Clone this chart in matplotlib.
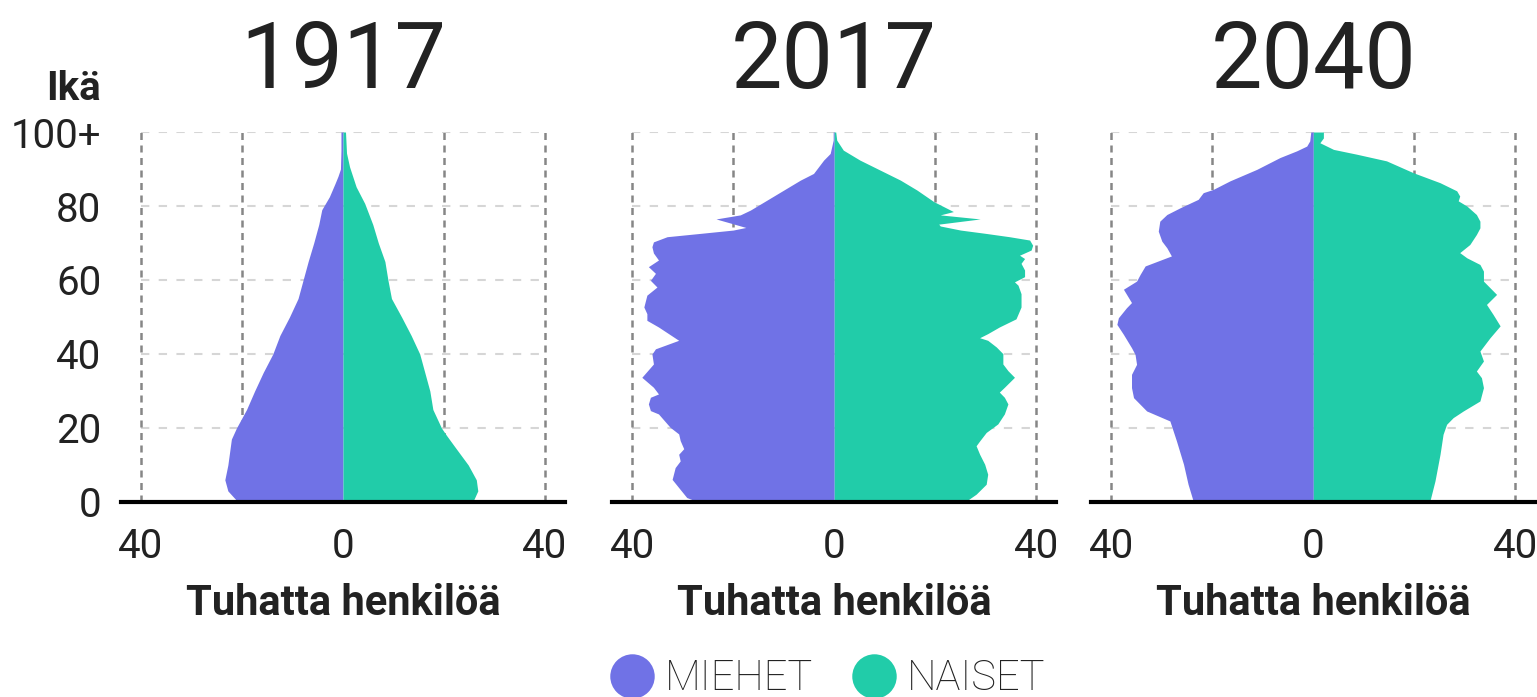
import matplotlib
matplotlib.use("Agg")
import matplotlib.pyplot as plt
from matplotlib.lines import Line2D

plt.rcParams['font.family'] = ['Roboto', 'DejaVu Sans']

# data, thousands of persons by age (men drawn to the left)
years = ['1917', '2017', '2040']

ages_m_1917 = [0, 3, 6, 10, 17, 20, 25, 30, 35, 40, 45, 50, 55, 60, 65, 70, 75, 79, 82.5, 86, 88,
               90, 95, 100]
men_1917 = [20.8, 22.8, 23.4, 22.8, 22.1, 21.1, 19.1, 17.5, 15.8, 13.9, 12.5, 10.6, 8.9, 7.9, 6.9,
            5.8, 4.8, 4.2, 2.7, 1.6, 1.0, 0.5, 0.4, 0.4]
ages_f_1917 = [0, 3, 6, 10, 15, 18, 20, 25, 30, 35, 40, 45, 50, 55, 60, 65, 70, 75, 80.7, 85.2,
               90.6, 94.3, 100]
women_1917 = [25.7, 26.7, 26.4, 24.8, 22.1, 20.5, 19.5, 17.8, 17.2, 16.2, 15.2, 13.5, 11.6, 9.6, 8.9,
              8.3, 7.0, 5.9, 4.3, 2.6, 1.3, 0.7, 0.5]

ages_m_2017 = [0, 0.3, 1.2, 3.9, 6.1, 9.3, 11.1, 12.9, 14.4, 16.6, 18.4, 20.2, 23.8, 24.7, 26.5, 28.3,
               29.2, 31.0, 33.7, 37.3, 40.0, 41.4, 43.7, 47.3, 49.1, 50.9, 52.7, 55.9, 58.1, 59.9,
               61.8, 63.6, 65.4, 67.3, 69.0, 70.3, 71.7, 72.6, 73.5, 74.2, 75.3, 76.5, 77.6, 78.9,
               81.6, 84.3, 87.0, 88.8, 92.4, 94.2, 97.8, 100]
men_2017 = [27.5, 27.5, 29.2, 30.8, 32.1, 31.5, 30.5, 30.8, 29.8, 30.5, 30.8, 32.5, 34.8, 36.4, 36.8,
            36.4, 34.8, 35.8, 38.1, 35.8, 36.1, 35.4, 30.8, 34.8, 37.1, 37.1, 37.7, 37.1, 35.1, 36.4,
            35.4, 36.8, 34.8, 35.8, 36.1, 35.8, 33.1, 26.5, 20.0, 17.5, 20.3, 23.4, 18.6, 16.6,
            13.3, 10.0, 6.7, 4.1, 2.1, 0.8, 0.2, 0.2]
ages_f_2017 = [0, 0.3, 2.1, 4.8, 7.5, 10.2, 12.9, 15.2, 16.5, 18.8, 21.1, 23.8, 26.5, 28.3, 29.7, 31.0,
               33.7, 35.5, 37.3, 40.1, 41.9, 43.7, 44.4, 45.5, 47.3, 49.5, 52.7, 56.3, 58.6, 59.5,
               60.9, 62.7, 64.5, 65.8, 66.7, 68.1, 69.4, 70.8, 71.7, 72.6, 73.5, 74.6, 75.1, 76.5,
               77.6, 78.5, 81.2, 84.3, 87.0, 89.7, 92.4, 95.1, 97.8, 100]
women_2017 = [26.2, 26.2, 28.1, 30.1, 30.4, 29.8, 28.8, 28.1, 28.8, 30.1, 32.4, 33.7, 34.4, 33.7, 32.7,
              33.7, 35.7, 34.4, 33.4, 33.4, 32.1, 30.4, 28.8, 30.4, 32.7, 36.0, 37.0, 37.0, 36.4,
              35.7, 37.7, 37.7, 37.0, 37.7, 36.7, 39.0, 39.3, 38.7, 34.7, 30.0, 25.0, 21.0, 20.7,
              28.9, 21.0, 23.6, 19.7, 16.4, 13.1, 9.1, 5.1, 1.8, 0.5, 0.3]

ages_m_2040 = [0, 0.3, 4.8, 10.2, 16.5, 21.9, 24.6, 28.2, 30.9, 34.5, 37.2, 39.9, 41.7, 45.3, 48.0,
               49.8, 52.5, 53.9, 57.5, 59.7, 61.5, 63.8, 66.5, 68.7, 70.5, 73.2, 75.9, 77.7, 79.5,
               81.8, 83.6, 84.5, 86.8, 89.9, 93.1, 94.9, 96.2, 97.6, 100]
men_2040 = [23.8, 23.8, 24.8, 25.7, 27.1, 28.4, 33.0, 35.6, 36.0, 36.0, 35.0, 35.3, 36.0, 37.6, 38.9,
            38.6, 37.0, 36.0, 37.6, 35.0, 34.3, 33.3, 28.1, 29.0, 30.0, 30.7, 30.4, 29.0, 26.4,
            22.8, 21.8, 19.8, 16.5, 11.2, 6.6, 3.3, 1.3, 0.7, 0.5]
ages_f_2040 = [0, 0.3, 5.7, 12.9, 18.3, 21.0, 22.8, 24.6, 27.3, 30.9, 33.6, 35.4, 38.1, 40.8, 44.4,
               47.6, 50.7, 53.4, 56.1, 59.7, 62.4, 64.2, 66.0, 67.4, 69.6, 72.3, 74.1, 75.9, 77.7,
               80.0, 81.4, 82.7, 84.1, 86.3, 89.0, 92.2, 94.0, 95.3, 97.1, 98.4, 100]
women_2040 = [23.1, 23.1, 24.1, 25.1, 25.7, 26.4, 27.7, 29.7, 33.0, 33.7, 33.3, 32.3, 33.7, 33.0,
              35.0, 37.0, 35.6, 34.3, 36.3, 33.7, 33.7, 33.0, 30.4, 29.0, 31.0, 32.3, 33.0, 33.0,
              32.3, 30.4, 28.7, 29.0, 28.4, 25.1, 19.8, 14.5, 8.6, 4.0, 1.3, 2.0, 2.0]

men = [(ages_m_1917, men_1917), (ages_m_2017, men_2017), (ages_m_2040, men_2040)]
women = [(ages_f_1917, women_1917), (ages_f_2017, women_2017), (ages_f_2040, women_2040)]

age_ticks = [0, 20, 40, 60, 80, 100]
age_labels = ['0', '20', '40', '60', '80', '100+']
x_ticks = [-40, 0, 40]
x_labels = ['40', '0', '40']

purple = '#7072e6'
teal = '#21cca9'
dark = '#222222'

fig = plt.figure(figsize=(15.37, 6.97), dpi=100)
lefts = [0.0786, 0.3982, 0.7099]

for i, year in enumerate(years):
    ax = fig.add_axes([lefts[i], 0.2798, 0.2891, 0.5308])
    ax.set_xlim(-44, 44)
    ax.set_ylim(0, 100)

    # grid
    ax.hlines(age_ticks[1:], -40, 40, colors='#d6d6d6', lw=1.5, linestyles=(0, (4, 4.5)), zorder=1)
    ax.vlines([-40, -20, 20, 40], 0, 100, colors='#868686', lw=1.8,
              linestyles=(0, (2.8, 2.2)), zorder=1)

    am, vm = men[i]
    af, vf = women[i]
    ax.fill_betweenx(am, [-v for v in vm], 0, color=purple, lw=0, zorder=2)
    ax.fill_betweenx(af, 0, vf, color=teal, lw=0, zorder=2)

    ax.axhline(0, color='black', lw=3, zorder=3, clip_on=False)

    for s in ax.spines.values():
        s.set_visible(False)

    ax.set_xticks(x_ticks)
    ax.set_xticklabels(x_labels)
    ax.set_yticks(age_ticks)
    if i == 0:
        ax.set_yticklabels(age_labels)
    else:
        ax.set_yticklabels([])
    ax.tick_params(length=0, labelsize=29, colors=dark)
    ax.tick_params(axis='x', pad=18)
    ax.tick_params(axis='y', pad=14)

    ax.text(0.5, 1.119, year, transform=ax.transAxes, ha='center', va='baseline',
            fontsize=66, color=dark)
    ax.text(0.5, -0.305, 'Tuhatta henkilöä', transform=ax.transAxes, ha='center',
            va='baseline', fontsize=30, fontweight='bold', color=dark)

fig.text(0.0657, 0.8565, 'Ikä', ha='right', va='baseline', fontsize=29,
         fontweight='bold', color=dark)

handles = [
    Line2D([], [], marker='o', ls='none', markersize=32, markerfacecolor=purple,
           markeredgecolor='none', label='MIEHET'),
    Line2D([], [], marker='o', ls='none', markersize=32, markerfacecolor=teal,
           markeredgecolor='none', label='NAISET'),
]
fig.legend(handles=handles, loc='center', bbox_to_anchor=(0.539, 0.026), ncol=2,
           frameon=False, handlelength=1.0, handletextpad=0.3, columnspacing=0.95,
           prop={'family': 'Roboto', 'weight': 'light', 'size': 30}, labelcolor=dark,
           borderaxespad=0, borderpad=0)

fig.savefig('out.png', dpi=100)
